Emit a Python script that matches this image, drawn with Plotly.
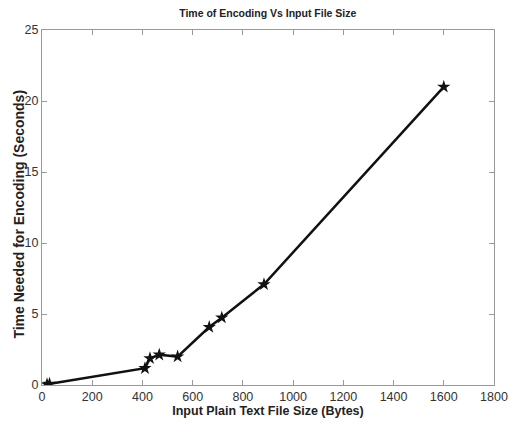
import plotly.graph_objects as go

file_size = [20, 30, 410, 430, 467, 540, 666, 716, 884, 1600]
enc_time = [0.05, 0.08, 1.18, 1.88, 2.13, 2.0, 4.08, 4.74, 7.09, 21.0]

title = "Time of Encoding Vs Input File Size"
x_title = "Input Plain Text File Size (Bytes)"
y_title = "Time Needed for Encoding (Seconds)"

font_fam = "Liberation Sans, Arial, sans-serif"

fig = go.Figure(go.Scatter(
    x=file_size, y=enc_time, mode="lines+markers",
    line=dict(color="#111111", width=2.5),
    marker=dict(symbol="star", size=10, color="#111111"),
))

axis_common = dict(
    showgrid=False, zeroline=False, showline=True, mirror="ticks",
    linecolor="#999999", linewidth=1, ticks="inside", ticklen=5,
    tickcolor="#999999", automargin=False,
    tickfont=dict(family=font_fam, size=12.5, color="#333333"),
)

fig.update_layout(
    width=513, height=426,
    margin=dict(l=42, r=19, t=30, b=41),
    paper_bgcolor="white", plot_bgcolor="white",
    showlegend=False,
    title=dict(text="<b>" + title + "</b>", x=0.522, xanchor="center", y=0.968, yanchor="middle",
               font=dict(family=font_fam, size=10.5, color="#222222")),
    xaxis=dict(range=[0, 1800], tickvals=list(range(0, 2000, 200)),
               title=dict(text="<b>" + x_title + "</b>", standoff=2,
                          font=dict(family=font_fam, size=12.5, color="#222222")),
               **axis_common),
    yaxis=dict(range=[0, 25], tickvals=[0, 5, 10, 15, 20, 25], **axis_common),
    annotations=[dict(
        text="<b>" + y_title + "</b>", xref="paper", yref="paper",
        x=0, y=0.48, xanchor="center", yanchor="middle", xshift=-23,
        textangle=-90, showarrow=False,
        font=dict(family=font_fam, size=14, color="#222222"),
    )],
)

fig.write_html("out.html", config={"displayModeBar": False},
               post_script="document.body.style.margin='0px';")
